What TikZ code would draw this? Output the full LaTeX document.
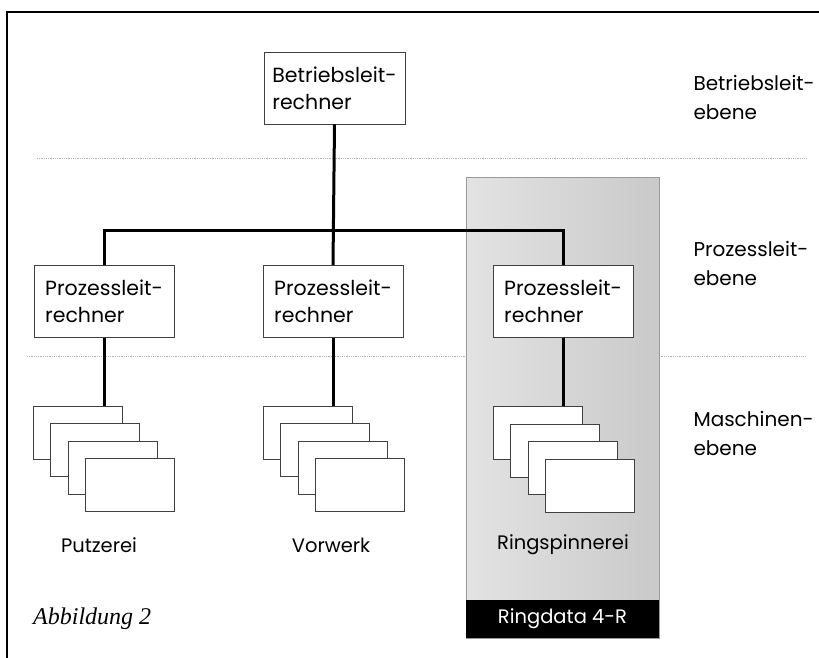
\documentclass[tikz,border=0pt]{standalone}
\usepackage{fontspec}
\setmainfont{Poppins}
\newfontfamily\abbfont{Liberation Serif}
\usetikzlibrary{positioning}

\tikzset{
	rechner/.style={draw=black!75, fill=white, line width=0.8pt, minimum width=141pt, minimum height=72pt, align=left, inner sep=0pt, font=\fontsize{20.5}{27}\selectfont},
	maschine/.style={draw=black!75, fill=white, line width=0.8pt, minimum width=89pt, minimum height=53pt},
	verbindung/.style={line width=3pt},
	trenner/.style={draw=gray!60, densely dotted, line width=0.8pt},
	bereich/.style={font=\fontsize{19.5}{24}\selectfont},
	ebene/.style={anchor=west, align=left, font=\fontsize{20}{29}\selectfont}
}

\begin{document}
\begin{tikzpicture}[x=1pt,y=-1pt]
	\useasboundingbox (0,0) rectangle (819,657);
	
	%frame
	\draw[line width=1.2pt] (7,670) -- (7,12) -- (830,12);
	
	%level lines
	\draw[trenner] (37,158) -- (806,158);
	\draw[trenner] (27,356) -- (806,356);
	
	%ringdata panel
	\shade[left color=gray!22, middle color=gray!8, right color=gray!42, draw=gray!80, line width=0.8pt] (466,177) rectangle (659,638);
	\node[fill=black, text=white, minimum width=193pt, minimum height=38pt, inner sep=0pt, font=\fontsize{19.5}{22}\selectfont] (rd) at (562.5,619) {Ringdata 4-R};
	
	%computers
	\node[rechner] (br) at (334.5,88) {Betriebsleit-\\rechner};
	\node[rechner, minimum width=140pt] (pl1) at (104,301.5) {Prozessleit-\\rechner};
	\node[rechner, minimum width=140pt] (pl2) at (333,301.5) {Prozessleit-\\rechner};
	\node[rechner, minimum width=140pt] (pl3) at (563,301.5) {Prozessleit-\\rechner};
	
	%machines
	\node[maschine] (m1a) at (77.5,432.5) {};
	\node[maschine] (m1b) at (95,450) {};
	\node[maschine] (m1c) at (112.5,467.5) {};
	\node[maschine] (m1d) at (130,485) {};
	
	\node[maschine] (m2a) at (307.5,432.5) {};
	\node[maschine] (m2b) at (325,450) {};
	\node[maschine] (m2c) at (342.5,467.5) {};
	\node[maschine] (m2d) at (360,485) {};
	
	\node[maschine] (m3a) at (537.5,433) {};
	\node[maschine] (m3b) at (555,450.5) {};
	\node[maschine] (m3c) at (572.5,468) {};
	\node[maschine] (m3d) at (590,485.5) {};
	
	%lines
	\coordinate (bus) at (333,230);
	\draw[verbindung] (br.south) -- (pl2.north);
	\draw[verbindung] (pl1.north) |- (bus) -| (pl3.north);
	\draw[verbindung] (pl1.south) -- (pl1.south |- m1a.north);
	\draw[verbindung] (pl2.south) -- (pl2.south |- m2a.north);
	\draw[verbindung] (pl3.south) -- (pl3.south |- m3a.north);
	
	%area labels
	\node[bereich] (putz) at (99,545) {Putzerei};
	\node[bereich] (vorw) at (331,545) {Vorwerk};
	\node[bereich] (ring) at (563,545) {Ringspinnerei};
	
	%level labels
	\node[ebene] (e1) at (690,97) {Betriebsleit-\\ebene};
	\node[ebene] (e2) at (690,263) {Prozessleit-\\ebene};
	\node[ebene] (e3) at (690,433) {Maschinen-\\ebene};
	
	%caption
	\node[anchor=west, inner sep=0pt, font=\abbfont\itshape\fontsize{24}{28}\selectfont] (abb) at (33,619) {Abbildung 2};
\end{tikzpicture}
\end{document}
